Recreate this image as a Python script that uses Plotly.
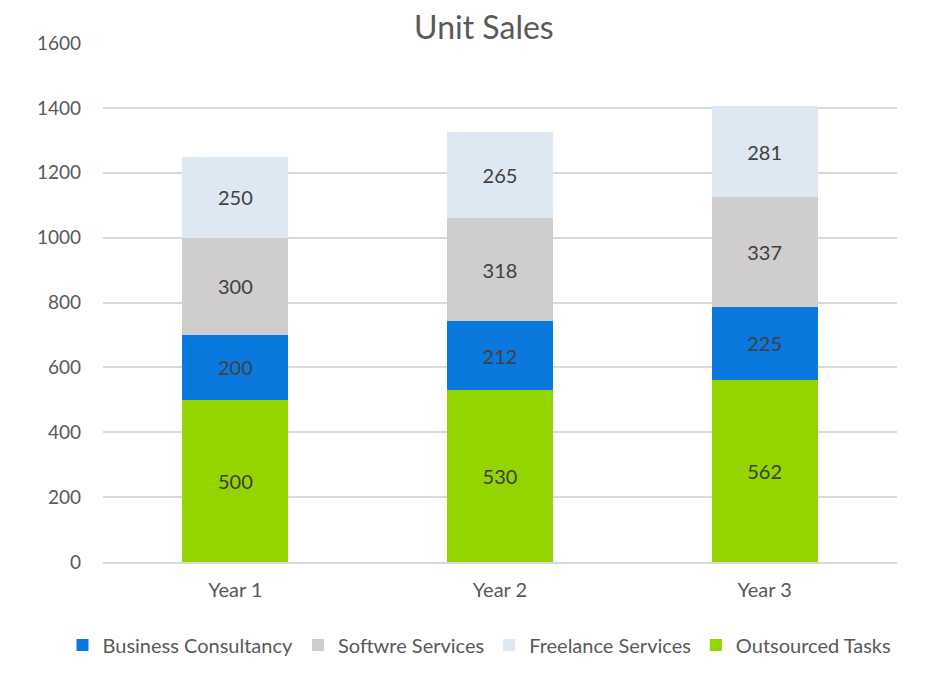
import plotly.graph_objects as go

years = ["Year 1", "Year 2", "Year 3"]
outsourced = [500, 530, 562]
business = [200, 212, 225]
software = [300, 318, 337]
freelance = [250, 265, 281]
y_ticks = [0, 200, 400, 600, 800, 1000, 1200, 1400, 1600]

FONT = "Lato, 'Open Sans', sans-serif"
series = [
    ("Outsourced Tasks", outsourced, "#94D500", 4),
    ("Business Consultancy", business, "#0A78DC", 1),
    ("Softwre Services", software, "#CFCDCE", 2),
    ("Freelance Services", freelance, "#DEE8F3", 3),
]

fig = go.Figure()
for name, vals, color, rank in series:
    fig.add_trace(go.Bar(
        x=years, y=vals, name=name, marker=dict(color=color, line=dict(width=0)),
        text=[str(v) for v in vals], textposition="inside", insidetextanchor="middle",
        textfont=dict(family=FONT, size=20, color="#404040"), legendrank=rank,
    ))

fig.update_layout(
    barmode="stack", bargap=0.6,
    width=935, height=678,
    margin=dict(l=95, r=46, t=35, b=124, autoexpand=False),
    paper_bgcolor="white", plot_bgcolor="white",
    font=dict(family=FONT, color="#595959"),
    title=dict(text="Unit Sales", x=0.509, xanchor="center", y=0.9705, yanchor="middle",
               font=dict(family=FONT, size=32, color="#595959"), automargin=False),
    legend=dict(orientation="h", x=-0.051, xanchor="left", y=-0.16, yanchor="middle",
                font=dict(family=FONT, size=20, color="#595959"), traceorder="normal",
                itemwidth=30, tracegroupgap=0),
    uniformtext=dict(mode="show", minsize=10),
)
fig.update_yaxes(range=[0, 1600], tickvals=y_ticks, showgrid=True, gridcolor="#D9D9D9",
                 gridwidth=1.5, zeroline=False, tickfont=dict(family=FONT, size=19, color="#595959"),
                 ticks="", ticklabelstandoff=21, automargin=False)
fig.update_xaxes(showline=True, linecolor="#D9D9D9", linewidth=1.5, automargin=False,
                 tickfont=dict(family=FONT, size=20, color="#595959"), ticks="",
                 ticklabelstandoff=9)
fig.write_html("out.html")
